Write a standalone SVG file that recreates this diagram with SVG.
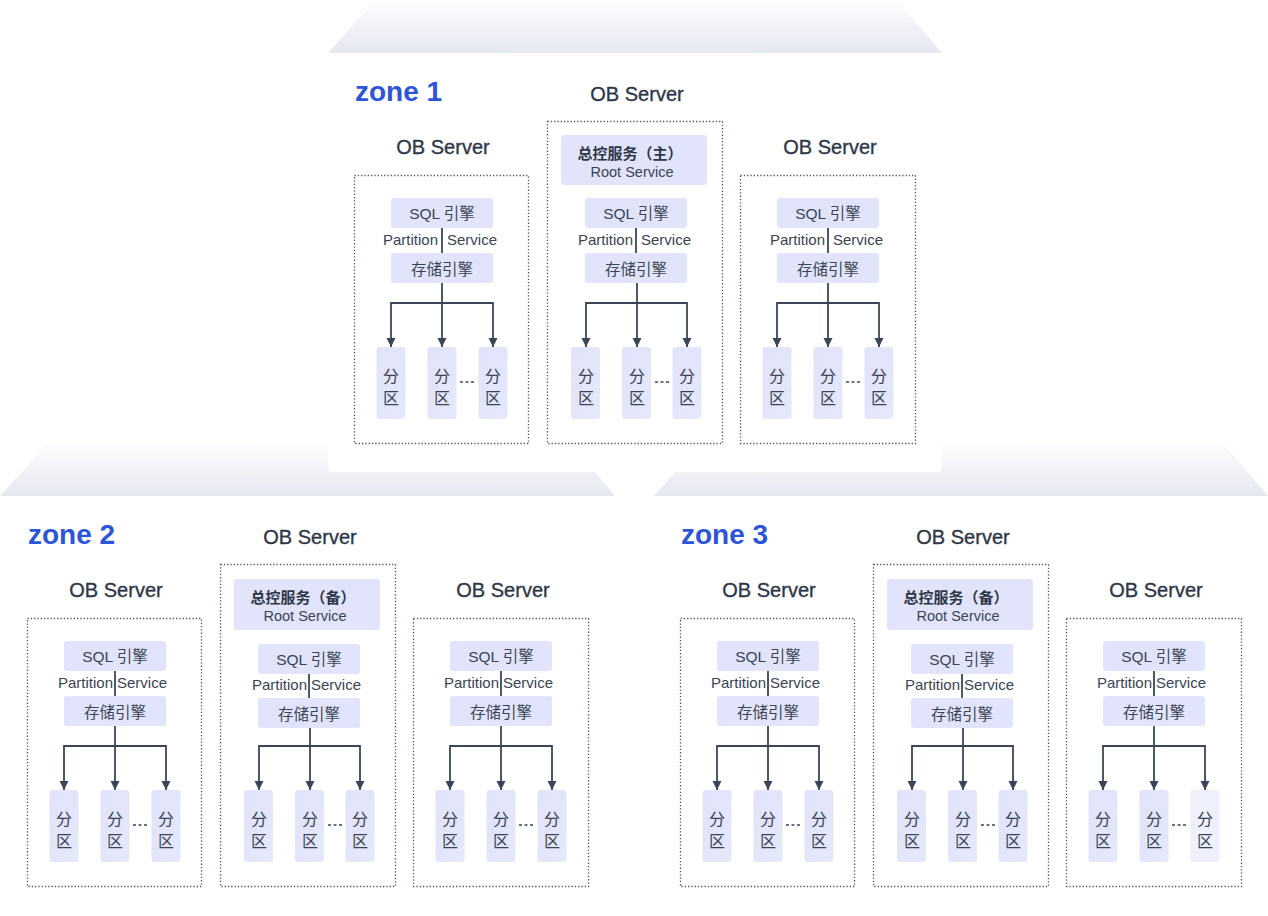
<svg xmlns="http://www.w3.org/2000/svg" width="1268" height="916" viewBox="0 0 1268 916">
<defs>
<style>
.trap{fill:url(#tg)}
.card{fill:#ffffff}
.zl{font-family:"Liberation Sans",Arial,sans-serif;font-weight:700;font-size:28px;fill:#2c55d9}
.obs{font-family:"Liberation Sans","Noto Sans",sans-serif;font-size:20px;fill:#2e3747;stroke:#2e3747;stroke-width:0.35;text-anchor:middle}
.srv{fill:none;stroke:#4d5563;stroke-width:1.3;stroke-dasharray:1.3 2}
.box{fill:#e1e4fa}
.pbox{fill:url(#pg)}
.plite{fill:#eef0fc}
.t{font-family:"Liberation Sans","Noto Sans CJK SC",sans-serif;font-size:15.5px;fill:#3b4454;text-anchor:middle}
.te{font-family:"Liberation Sans","Noto Sans CJK SC",sans-serif;font-size:15px;fill:#3b4454;text-anchor:end}
.ts{font-family:"Liberation Sans","Noto Sans CJK SC",sans-serif;font-size:15px;fill:#3b4454;text-anchor:start}
.tb{font-family:"Liberation Sans","Noto Sans CJK SC",sans-serif;font-size:15px;font-weight:700;fill:#2e3747;text-anchor:middle}
.rs{font-family:"Liberation Sans","Noto Sans",sans-serif;font-size:14.5px;fill:#3b4454;text-anchor:middle}
.pt{font-family:"Noto Sans CJK SC",sans-serif;font-size:16px;fill:#3b4454;text-anchor:middle}
.ln{stroke:#3a4658;stroke-width:1.8;fill:none}
.ar{stroke:#3a4658;stroke-width:1.8;fill:none;marker-end:url(#ah)}
.dots{stroke:#3a4658;stroke-width:1.6;stroke-dasharray:3 2.5}
</style>
<linearGradient id="tg" x1="0" y1="0" x2="0" y2="1">
<stop offset="0" stop-color="#fdfdfe"/>
<stop offset="1" stop-color="#e6e8f1"/>
</linearGradient>
<linearGradient id="pg" x1="0" y1="0" x2="1" y2="1">
<stop offset="0" stop-color="#e0e3fa"/>
<stop offset="1" stop-color="#e6e9fb"/>
</linearGradient>
<marker id="ah" markerUnits="userSpaceOnUse" markerWidth="10" markerHeight="10" refX="9" refY="4.5" orient="auto">
<path d="M0,0 L9,4.5 L0,9 z" fill="#3a4658"/>
</marker>
</defs>
<rect width="1268" height="916" fill="#ffffff"/>
<g id="backgrounds">
<polygon class="trap" points="48,443 570,443 615,496 0,496"/>
<polygon class="trap" points="701,443 1223,443 1268,496 654,496"/>
<polygon class="trap" points="375,0 897,0 942,53 328,53"/>
<path class="card" d="M328,53 H942 V468 a4,4 0 0 1 -4,4 H332 a4,4 0 0 1 -4,-4 Z"/>
</g>

<g id="zone1">
<text class="zl" x="355" y="101">zone 1</text>
<g id="z1-s1">
<rect class="srv" x="354.5" y="175.5" width="174" height="268"/>
<text class="obs" x="443" y="154">OB Server</text>
<rect class="box" x="391" y="198" width="102" height="30" rx="3"/>
<text class="t" x="442" y="219">SQL 引擎</text>
<text class="te" x="438" y="245">Partition</text>
<text class="ts" x="447" y="245">Service</text>
<rect class="box" x="391" y="253" width="102" height="30" rx="3"/>
<text class="t" x="442" y="275">存储引擎</text>
<rect class="pbox" x="376.5" y="347" width="29" height="72" rx="3"/>
<rect class="pbox" x="427.5" y="347" width="29" height="72" rx="3"/>
<rect class="pbox" x="478.5" y="347" width="29" height="72" rx="3"/>
<text class="pt" x="391" y="382">分</text><text class="pt" x="391" y="404">区</text>
<text class="pt" x="442" y="382">分</text><text class="pt" x="442" y="404">区</text>
<text class="pt" x="493" y="382">分</text><text class="pt" x="493" y="404">区</text>
<line class="dots" x1="460" y1="382" x2="476" y2="382"/>
</g>
<g id="z1-s2">
<rect class="srv" x="547.5" y="121.5" width="175" height="322"/>
<text class="obs" x="637" y="101">OB Server</text>
<rect class="box" x="561" y="135" width="146" height="50" rx="3"/>
<text class="tb" x="630" y="159">总控服务（主）</text>
<text class="rs" x="632" y="177">Root Service</text>
<rect class="box" x="585" y="198" width="102" height="30" rx="3"/>
<text class="t" x="636" y="219">SQL 引擎</text>
<text class="te" x="633" y="245">Partition</text>
<text class="ts" x="641" y="245">Service</text>
<rect class="box" x="585" y="253" width="102" height="30" rx="3"/>
<text class="t" x="636" y="275">存储引擎</text>
<rect class="pbox" x="571" y="347" width="29" height="72" rx="3"/>
<rect class="pbox" x="622" y="347" width="29" height="72" rx="3"/>
<rect class="pbox" x="672.5" y="347" width="29" height="72" rx="3"/>
<text class="pt" x="586" y="382">分</text><text class="pt" x="586" y="404">区</text>
<text class="pt" x="637" y="382">分</text><text class="pt" x="637" y="404">区</text>
<text class="pt" x="687" y="382">分</text><text class="pt" x="687" y="404">区</text>
<line class="dots" x1="655" y1="382" x2="670" y2="382"/>
</g>
<g id="z1-s3">
<rect class="srv" x="740.5" y="175.5" width="175" height="268"/>
<text class="obs" x="830" y="154">OB Server</text>
<rect class="box" x="777" y="198" width="102" height="30" rx="3"/>
<text class="t" x="828" y="219">SQL 引擎</text>
<text class="te" x="825" y="245">Partition</text>
<text class="ts" x="833" y="245">Service</text>
<rect class="box" x="777" y="253" width="102" height="30" rx="3"/>
<text class="t" x="828" y="275">存储引擎</text>
<rect class="pbox" x="762.5" y="347" width="29" height="72" rx="3"/>
<rect class="pbox" x="813.5" y="347" width="29" height="72" rx="3"/>
<rect class="pbox" x="864.5" y="347" width="29" height="72" rx="3"/>
<text class="pt" x="777" y="382">分</text><text class="pt" x="777" y="404">区</text>
<text class="pt" x="828" y="382">分</text><text class="pt" x="828" y="404">区</text>
<text class="pt" x="879" y="382">分</text><text class="pt" x="879" y="404">区</text>
<line class="dots" x1="846" y1="382" x2="862" y2="382"/>
</g>
<g id="z1-connectors">
<line class="ln" x1="442" y1="228" x2="442" y2="253"/>
<path class="ar" d="M442,283 V347"/>
<path class="ar" d="M442,303 H391 V347"/>
<path class="ar" d="M442,303 H493 V347"/>
<line class="ln" x1="636" y1="228" x2="636" y2="253"/>
<path class="ar" d="M637,283 V347"/>
<path class="ar" d="M637,303 H586 V347"/>
<path class="ar" d="M637,303 H687 V347"/>
<line class="ln" x1="828" y1="228" x2="828" y2="253"/>
<path class="ar" d="M828,283 V347"/>
<path class="ar" d="M828,303 H777 V347"/>
<path class="ar" d="M828,303 H879 V347"/>
</g>
</g>

<g id="zone2" transform="translate(-327,443)">
<text class="zl" x="355" y="101">zone 2</text>
<g id="z2-s1">
<rect class="srv" x="354.5" y="175.5" width="174" height="268"/>
<text class="obs" x="443" y="154">OB Server</text>
<rect class="box" x="391" y="198" width="102" height="30" rx="3"/>
<text class="t" x="442" y="219">SQL 引擎</text>
<text class="te" x="440" y="245">Partition</text>
<text class="ts" x="444" y="245">Service</text>
<rect class="box" x="391" y="253" width="102" height="30" rx="3"/>
<text class="t" x="442" y="275">存储引擎</text>
<rect class="pbox" x="376.5" y="347" width="29" height="72" rx="3"/>
<rect class="pbox" x="427.5" y="347" width="29" height="72" rx="3"/>
<rect class="pbox" x="478.5" y="347" width="29" height="72" rx="3"/>
<text class="pt" x="391" y="382">分</text><text class="pt" x="391" y="404">区</text>
<text class="pt" x="442" y="382">分</text><text class="pt" x="442" y="404">区</text>
<text class="pt" x="493" y="382">分</text><text class="pt" x="493" y="404">区</text>
<line class="dots" x1="460" y1="382" x2="476" y2="382"/>
</g>
<g id="z2-s2">
<rect class="srv" x="547.5" y="121.5" width="175" height="322"/>
<text class="obs" x="637" y="101">OB Server</text>
<rect class="box" x="561" y="136" width="146" height="51" rx="3"/>
<text class="tb" x="630" y="160">总控服务（备）</text>
<text class="rs" x="632" y="178">Root Service</text>
<rect class="box" x="585" y="201" width="102" height="30" rx="3"/>
<text class="t" x="636" y="222">SQL 引擎</text>
<text class="te" x="634" y="247">Partition</text>
<text class="ts" x="638" y="247">Service</text>
<rect class="box" x="585" y="255" width="102" height="30" rx="3"/>
<text class="t" x="636" y="277">存储引擎</text>
<rect class="pbox" x="571" y="347" width="29" height="72" rx="3"/>
<rect class="pbox" x="622" y="347" width="29" height="72" rx="3"/>
<rect class="pbox" x="672.5" y="347" width="29" height="72" rx="3"/>
<text class="pt" x="586" y="382">分</text><text class="pt" x="586" y="404">区</text>
<text class="pt" x="637" y="382">分</text><text class="pt" x="637" y="404">区</text>
<text class="pt" x="687" y="382">分</text><text class="pt" x="687" y="404">区</text>
<line class="dots" x1="655" y1="382" x2="670" y2="382"/>
</g>
<g id="z2-s3">
<rect class="srv" x="740.5" y="175.5" width="175" height="268"/>
<text class="obs" x="830" y="154">OB Server</text>
<rect class="box" x="777" y="198" width="102" height="30" rx="3"/>
<text class="t" x="828" y="219">SQL 引擎</text>
<text class="te" x="826" y="245">Partition</text>
<text class="ts" x="830" y="245">Service</text>
<rect class="box" x="777" y="253" width="102" height="30" rx="3"/>
<text class="t" x="828" y="275">存储引擎</text>
<rect class="pbox" x="762.5" y="347" width="29" height="72" rx="3"/>
<rect class="pbox" x="813.5" y="347" width="29" height="72" rx="3"/>
<rect class="pbox" x="864.5" y="347" width="29" height="72" rx="3"/>
<text class="pt" x="777" y="382">分</text><text class="pt" x="777" y="404">区</text>
<text class="pt" x="828" y="382">分</text><text class="pt" x="828" y="404">区</text>
<text class="pt" x="879" y="382">分</text><text class="pt" x="879" y="404">区</text>
<line class="dots" x1="846" y1="382" x2="862" y2="382"/>
</g>
<g id="z2-connectors">
<line class="ln" x1="442" y1="228" x2="442" y2="253"/>
<path class="ar" d="M442,283 V347"/>
<path class="ar" d="M442,303 H391 V347"/>
<path class="ar" d="M442,303 H493 V347"/>
<line class="ln" x1="636" y1="231" x2="636" y2="255"/>
<path class="ar" d="M637,285 V347"/>
<path class="ar" d="M637,303 H586 V347"/>
<path class="ar" d="M637,303 H687 V347"/>
<line class="ln" x1="828" y1="228" x2="828" y2="253"/>
<path class="ar" d="M828,283 V347"/>
<path class="ar" d="M828,303 H777 V347"/>
<path class="ar" d="M828,303 H879 V347"/>
</g>
</g>

<g id="zone3" transform="translate(326,443)">
<text class="zl" x="355" y="101">zone 3</text>
<g id="z3-s1">
<rect class="srv" x="354.5" y="175.5" width="174" height="268"/>
<text class="obs" x="443" y="154">OB Server</text>
<rect class="box" x="391" y="198" width="102" height="30" rx="3"/>
<text class="t" x="442" y="219">SQL 引擎</text>
<text class="te" x="440" y="245">Partition</text>
<text class="ts" x="444" y="245">Service</text>
<rect class="box" x="391" y="253" width="102" height="30" rx="3"/>
<text class="t" x="442" y="275">存储引擎</text>
<rect class="pbox" x="376.5" y="347" width="29" height="72" rx="3"/>
<rect class="pbox" x="427.5" y="347" width="29" height="72" rx="3"/>
<rect class="pbox" x="478.5" y="347" width="29" height="72" rx="3"/>
<text class="pt" x="391" y="382">分</text><text class="pt" x="391" y="404">区</text>
<text class="pt" x="442" y="382">分</text><text class="pt" x="442" y="404">区</text>
<text class="pt" x="493" y="382">分</text><text class="pt" x="493" y="404">区</text>
<line class="dots" x1="460" y1="382" x2="476" y2="382"/>
</g>
<g id="z3-s2">
<rect class="srv" x="547.5" y="121.5" width="175" height="322"/>
<text class="obs" x="637" y="101">OB Server</text>
<rect class="box" x="561" y="136" width="146" height="51" rx="3"/>
<text class="tb" x="630" y="160">总控服务（备）</text>
<text class="rs" x="632" y="178">Root Service</text>
<rect class="box" x="585" y="201" width="102" height="30" rx="3"/>
<text class="t" x="636" y="222">SQL 引擎</text>
<text class="te" x="634" y="247">Partition</text>
<text class="ts" x="638" y="247">Service</text>
<rect class="box" x="585" y="255" width="102" height="30" rx="3"/>
<text class="t" x="636" y="277">存储引擎</text>
<rect class="pbox" x="571" y="347" width="29" height="72" rx="3"/>
<rect class="pbox" x="622" y="347" width="29" height="72" rx="3"/>
<rect class="pbox" x="672.5" y="347" width="29" height="72" rx="3"/>
<text class="pt" x="586" y="382">分</text><text class="pt" x="586" y="404">区</text>
<text class="pt" x="637" y="382">分</text><text class="pt" x="637" y="404">区</text>
<text class="pt" x="687" y="382">分</text><text class="pt" x="687" y="404">区</text>
<line class="dots" x1="655" y1="382" x2="670" y2="382"/>
</g>
<g id="z3-s3">
<rect class="srv" x="740.5" y="175.5" width="175" height="268"/>
<text class="obs" x="830" y="154">OB Server</text>
<rect class="box" x="777" y="198" width="102" height="30" rx="3"/>
<text class="t" x="828" y="219">SQL 引擎</text>
<text class="te" x="826" y="245">Partition</text>
<text class="ts" x="830" y="245">Service</text>
<rect class="box" x="777" y="253" width="102" height="30" rx="3"/>
<text class="t" x="828" y="275">存储引擎</text>
<rect class="pbox" x="762.5" y="347" width="29" height="72" rx="3"/>
<rect class="pbox" x="813.5" y="347" width="29" height="72" rx="3"/>
<rect class="plite" x="864.5" y="347" width="29" height="72" rx="3"/>
<text class="pt" x="777" y="382">分</text><text class="pt" x="777" y="404">区</text>
<text class="pt" x="828" y="382">分</text><text class="pt" x="828" y="404">区</text>
<text class="pt" x="879" y="382">分</text><text class="pt" x="879" y="404">区</text>
<line class="dots" x1="846" y1="382" x2="862" y2="382"/>
</g>
<g id="z3-connectors">
<line class="ln" x1="442" y1="228" x2="442" y2="253"/>
<path class="ar" d="M442,283 V347"/>
<path class="ar" d="M442,303 H391 V347"/>
<path class="ar" d="M442,303 H493 V347"/>
<line class="ln" x1="636" y1="231" x2="636" y2="255"/>
<path class="ar" d="M637,285 V347"/>
<path class="ar" d="M637,303 H586 V347"/>
<path class="ar" d="M637,303 H687 V347"/>
<line class="ln" x1="828" y1="228" x2="828" y2="253"/>
<path class="ar" d="M828,283 V347"/>
<path class="ar" d="M828,303 H777 V347"/>
<path class="ar" d="M828,303 H879 V347"/>
</g>
</g>
</svg>
